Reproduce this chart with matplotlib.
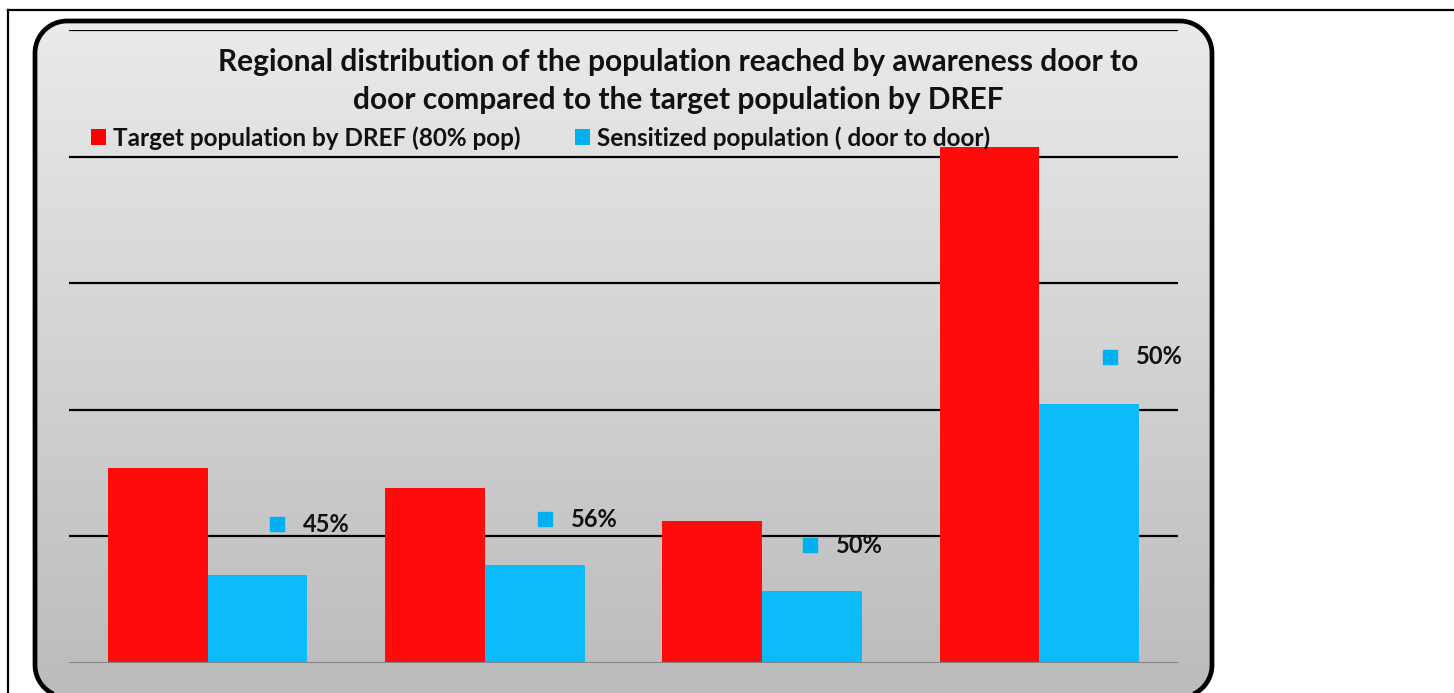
import numpy as np
import matplotlib
matplotlib.use("Agg")
import matplotlib.pyplot as plt
from matplotlib.patches import Patch, Polygon
from matplotlib.lines import Line2D
from matplotlib import transforms

# ---- data ----
categories = ["Region 1", "Region 2", "Region 3", "Region 4"]
target_pop = [30800, 27650, 22430, 81520]
sensitized_pop = [13900, 15480, 11370, 40920]
pct_labels = ["45%", "56%", "50%", "50%"]
series_names = ["Target population by DREF (80% pop)", "Sensitized population ( door to door)"]
title = ("Regional distribution of the population reached by awareness door to\n"
         "door compared to the target population by DREF")

# ---- style ----
W, H = 1454, 693
RED = "#fe0b0b"
BLUE = "#0bbbfa"
KEY_RED = "#ff0000"
KEY_BLUE = "#00b0f0"
FONT = ["Lato", "DejaVu Sans"]


def rounded_rect(x0, y0, x1, y1, r, n=24):
    pts = []
    corners = [(x1 - r, y0 + r, -90, 0), (x1 - r, y1 - r, 0, 90),
               (x0 + r, y1 - r, 90, 180), (x0 + r, y0 + r, 180, 270)]
    for cx, cy, a0, a1 in corners:
        t = np.radians(np.linspace(a0, a1, n))
        pts.extend(zip(cx + r * np.cos(t), cy + r * np.sin(t)))
    return np.array(pts)


fig = plt.figure(figsize=(W / 100, H / 100), dpi=100)
fig.patch.set_facecolor("white")

# background layer in pixel coords (y downward)
bg = fig.add_axes([0, 0, 1, 1], zorder=0)
bg.set_xlim(0, W)
bg.set_ylim(H, 0)
bg.axis("off")

# outer thin frame
bg.add_line(Line2D([8, W], [10, 10], color="black", lw=1.6))
bg.add_line(Line2D([8, 8], [10, H], color="black", lw=1.6))

# rounded box with gradient
bx0, by0, bx1, by1 = 35, 21, 1212, 697
pts = rounded_rect(bx0, by0, bx1, by1, 32)
box = Polygon(pts, closed=True, facecolor="none", edgecolor="black", lw=3.4,
              zorder=3, joinstyle="round")
bg.add_patch(box)
grad = np.linspace(0, 1, 256).reshape(-1, 1)
top_c = np.array([234, 234, 234]) / 255
bot_c = np.array([187, 187, 187]) / 255
img = top_c[None, None, :] * (1 - grad[:, :, None]) + bot_c[None, None, :] * grad[:, :, None]
im = bg.imshow(img, extent=(bx0, bx1, by1, by0), aspect="auto", zorder=1, interpolation="bilinear")
im.set_clip_path(box)

# main axes
ax = fig.add_axes([69 / W, 30 / H, 1109 / W, 633 / H], zorder=2)
ax.set_facecolor("none")
x = np.arange(len(categories))
bw = 0.36
ax.bar(x - bw / 2, target_pop, bw, color=RED, zorder=3, linewidth=0)
ax.bar(x + bw / 2, sensitized_pop, bw, color=BLUE, zorder=3, linewidth=0)
ax.set_xlim(-0.5, len(categories) - 0.5)
ax.set_ylim(0, 100000)
for yv in [20000, 40000, 60000, 80000, 100000]:
    ax.axhline(yv, color="black", lw=1.6, zorder=1)
ax.axhline(0, color="#808080", lw=2.2, zorder=4)
for s in ax.spines.values():
    s.set_visible(False)
ax.set_xticks([])
ax.set_yticks([])

# data labels (key square + text)
sq_dx = [19, 10, -2, 21]
sq_dy = [51, 46, 46, 47]
for i, (v, lab) in enumerate(zip(sensitized_pop, pct_labels)):
    tr = transforms.offset_copy(ax.transData, fig=fig, x=sq_dx[i], y=sq_dy[i], units="dots")
    ax.plot([x[i] + bw / 2], [v], marker="s", ms=9.5, color=KEY_BLUE, transform=tr,
            clip_on=False, zorder=5, linestyle="none")
    tr2 = transforms.offset_copy(ax.transData, fig=fig, x=sq_dx[i] + 26, y=sq_dy[i], units="dots")
    ax.text(x[i] + bw / 2, v, lab, transform=tr2, ha="left", va="center",
            fontsize=17, fontweight="bold", family=FONT, color="#111111", zorder=5)

# title
fig.text(678.5 / W, 1 - 81 / H, title, ha="center", va="center", multialignment="center",
         fontsize=21.5, fontweight="bold", family=FONT, linespacing=1.4, color="#111111")

# legend
handles = [Patch(facecolor=KEY_RED, edgecolor="none"), Patch(facecolor=KEY_BLUE, edgecolor="none")]
leg = fig.legend(handles, series_names, loc="center left", bbox_to_anchor=(69 / W, 1 - 138 / H),
                 ncol=2, frameon=False, handlelength=0.62, handleheight=0.62, handletextpad=0.28,
                 columnspacing=2.25, prop={"family": FONT, "weight": "bold", "size": 17.5})
for t in leg.get_texts():
    t.set_color("#111111")

fig.savefig("out.png", dpi=100, facecolor="white")
